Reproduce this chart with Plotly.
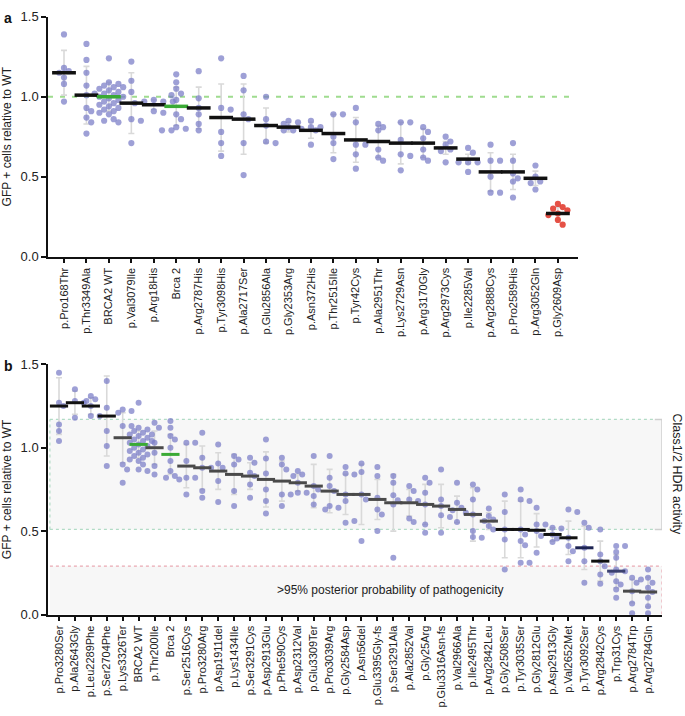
import plotly.graph_objects as go

# ---------------- Panel a data ----------------
cats_a = ["p.Pro168Thr", "p.Thr3349Ala", "BRCA2 WT", "p.Val3079Ile", "p.Arg18His", "Brca 2",
          "p.Arg2787His", "p.Tyr3098His", "p.Ala2717Ser", "p.Glu2856Ala", "p.Gly2353Arg",
          "p.Asn372His", "p.Thr2515Ile", "p.Tyr42Cys", "p.Ala2951Thr", "p.Lys2729Asn",
          "p.Arg3170Gly", "p.Arg2973Cys", "p.Ile2285Val", "p.Arg2888Cys", "p.Pro2589His",
          "p.Arg3052Gln", "p.Gly2609Asp"]
means_a = [1.15, 1.01, 1.00, 0.96, 0.95, 0.94, 0.93, 0.87, 0.86, 0.82, 0.81, 0.79, 0.77,
           0.73, 0.72, 0.71, 0.71, 0.68, 0.61, 0.53, 0.53, 0.49, 0.27]
err_a = [0.14, 0.18, 0.09, 0.19, 0.03, 0.12, 0.13, 0.21, 0.22, 0.11, 0.03, 0.05, 0.12,
         0.14, 0.10, 0.13, 0.09, 0.04, 0.03, 0.12, 0.11, 0.045, 0.04]
points_a = [
    [1.39, 1.18, 1.16, 1.15, 1.12, 1.08, 0.97],
    [1.33, 1.23, 1.15, 1.07, 1.01, 0.93, 0.91, 0.87, 0.84, 0.77],
    [1.24, 1.09, 1.08, 1.07, 1.06, 1.06, 1.05, 1.04, 1.03, 1.02, 1.02, 1.01, 1.00, 1.00,
     0.99, 0.98, 0.97, 0.96, 0.95, 0.94, 0.93, 0.92, 0.91, 0.90, 0.89, 0.86, 0.85, 0.84],
    [1.22, 1.10, 1.03, 0.86, 0.85, 0.71],
    [0.98, 0.97, 0.97, 0.97, 0.96, 0.91, 0.90],
    [1.14, 1.09, 1.05, 1.02, 1.01, 0.98, 0.89, 0.86, 0.81, 0.80, 0.79, 0.79],
    [1.16, 0.99, 0.93, 0.89, 0.83, 0.79],
    [1.24, 0.93, 0.92, 0.78, 0.71, 0.63],
    [1.13, 1.04, 0.89, 0.86, 0.71, 0.51],
    [1.00, 0.86, 0.82, 0.72, 0.71],
    [0.85, 0.84, 0.83, 0.81, 0.79, 0.79],
    [0.85, 0.81, 0.81, 0.80, 0.79, 0.70],
    [0.89, 0.89, 0.75, 0.71, 0.61],
    [0.93, 0.84, 0.70, 0.70, 0.64, 0.55],
    [0.83, 0.81, 0.79, 0.67, 0.62, 0.60],
    [0.84, 0.84, 0.73, 0.64, 0.63, 0.54],
    [0.81, 0.78, 0.74, 0.67, 0.62, 0.60],
    [0.75, 0.72, 0.70, 0.67, 0.66, 0.59],
    [0.68, 0.65, 0.59, 0.59, 0.59, 0.53],
    [0.70, 0.60, 0.60, 0.50, 0.40, 0.40],
    [0.71, 0.60, 0.52, 0.49, 0.47, 0.37],
    [0.57, 0.50, 0.47, 0.46, 0.42],
    [0.33, 0.31, 0.30, 0.29, 0.27, 0.26, 0.23, 0.20],
]
wt_level_a = 1.0

# ---------------- Panel b data ----------------
cats_b = ["p.Pro3280Ser", "p.Ala2643Gly", "p.Leu2289Phe", "p.Ser2704Phe", "p.Lys3326Ter",
          "BRCA2 WT", "p.Thr200Ile", "Brca 2", "p.Ser2516Cys", "p.Pro3280Arg", "p.Asp1911del",
          "p.Lys1434Ile", "p.Ser3291Cys", "p.Asp2913Glu", "p.Phe590Cys", "p.Asp2312Val",
          "p.Glu3309Ter", "p.Pro3039Arg", "p.Gly2584Asp", "p.Asn56del", "p.Glu3395Gly-fs",
          "p.Ser3291Ala", "p.Ala2852Val", "p.Gly25Arg", "p.Glu3316Asn-fs", "p.Val2966Ala",
          "p.Ile2495Thr", "p.Arg2842Leu", "p.Gly2508Ser", "p.Tyr3035Ser", "p.Gly2812Glu",
          "p.Asp2913Gly", "p.Val2652Met", "p.Tyr3092Ser", "p.Arg2842Cys", "p.Trp31Cys",
          "p.Arg2784Trp", "p.Arg2784Gln"]
means_b = [1.25, 1.27, 1.25, 1.19, 1.06, 1.02, 1.00, 0.96, 0.89, 0.88, 0.86, 0.84, 0.83,
           0.81, 0.80, 0.79, 0.77, 0.74, 0.72, 0.72, 0.69, 0.67, 0.67, 0.66, 0.65, 0.63,
           0.60, 0.56, 0.51, 0.51, 0.505, 0.48, 0.46, 0.40, 0.32, 0.26, 0.14, 0.135]
err_b = [0.17, 0.07, 0.05, 0.24, 0.15, 0.08, 0.10, 0.12, 0.13, 0.13, 0.11, 0.12, 0.08,
         0.165, 0.12, 0.05, 0.13, 0.13, 0.12, 0.18, 0.12, 0.17, 0.08, 0.12, 0.13, 0.08,
         0.16, 0.05, 0.17, 0.17, 0.10, 0.04, 0.10, 0.13, 0.12, 0.10, 0.07, 0.09]
points_b = [
    [1.45, 1.27, 1.25, 1.14, 1.10, 1.04],
    [1.35, 1.28, 1.27, 1.18],
    [1.31, 1.29, 1.28, 1.25, 1.19, 1.19],
    [1.52, 1.40, 1.24, 1.10, 1.01, 0.89],
    [1.23, 1.22, 1.21, 1.13, 1.13, 0.90, 0.87, 0.79],
    [1.27, 1.12, 1.11, 1.10, 1.09, 1.08, 1.08, 1.07, 1.06, 1.05, 1.04, 1.04, 1.03, 1.02,
     1.01, 1.00, 0.99, 0.98, 0.97, 0.96, 0.95, 0.94, 0.93, 0.92, 0.90, 0.87, 0.86],
    [1.15, 1.12, 1.03, 0.97, 0.89, 0.84],
    [1.16, 1.12, 1.07, 1.05, 1.00, 0.92, 0.86, 0.83, 0.82, 0.81],
    [1.03, 1.03, 0.92, 0.82, 0.82, 0.72],
    [1.09, 0.94, 0.88, 0.88, 0.74, 0.70],
    [1.02, 0.905, 0.88, 0.80, 0.675],
    [0.95, 0.93, 0.90, 0.74, 0.65],
    [0.94, 0.91, 0.85, 0.83, 0.78, 0.70],
    [1.05, 0.935, 0.845, 0.75, 0.68, 0.605],
    [0.94, 0.90, 0.87, 0.72, 0.72, 0.65],
    [0.86, 0.84, 0.83, 0.79, 0.73, 0.73],
    [0.95, 0.77, 0.75, 0.71, 0.66],
    [0.95, 0.82, 0.77, 0.74, 0.65, 0.64, 0.63],
    [0.885, 0.845, 0.84, 0.72, 0.68, 0.55, 0.56],
    [0.905, 0.855, 0.72, 0.69, 0.44],
    [0.885, 0.83, 0.70, 0.63, 0.60, 0.50],
    [0.83, 0.79, 0.715, 0.685, 0.66, 0.34],
    [0.77, 0.74, 0.69, 0.68, 0.575, 0.555],
    [0.82, 0.79, 0.73, 0.66, 0.54, 0.49],
    [0.87, 0.69, 0.65, 0.595, 0.585, 0.49],
    [0.79, 0.67, 0.64, 0.625, 0.61, 0.555],
    [0.78, 0.75, 0.69, 0.60, 0.50, 0.465, 0.46],
    [0.635, 0.59, 0.57, 0.56, 0.53, 0.51],
    [0.72, 0.615, 0.51, 0.45, 0.27],
    [0.75, 0.69, 0.68, 0.51, 0.48, 0.44, 0.415, 0.31, 0.31],
    [0.64, 0.54, 0.54, 0.50, 0.47, 0.37],
    [0.52, 0.515, 0.48, 0.455, 0.435],
    [0.63, 0.615, 0.46, 0.41, 0.38, 0.32],
    [0.55, 0.52, 0.40, 0.32, 0.19],
    [0.51, 0.36, 0.32, 0.29, 0.24, 0.185],
    [0.41, 0.41, 0.375, 0.34, 0.27, 0.26, 0.25, 0.20, 0.18, 0.15, 0.10],
    [0.22, 0.21, 0.19, 0.14, 0.066, 0.007],
    [0.27, 0.22, 0.19, 0.16, 0.135, 0.10, 0.05, 0.007],
]
hdr_band_b = (0.51, 1.17)
patho_limit_b = 0.29
y_ticks = [0.0, 0.5, 1.0, 1.5]

# ---------------- styles ----------------
W, H = 685, 716
FONT = "Liberation Sans, Arial, sans-serif"
PT = "rgba(120,124,198,0.72)"
RED = "rgba(226,62,50,0.9)"
ERR = "#d9d9d9"
GREEN_MEAN = "#3aaa35"
mean_col_a = ["#111111"] * len(cats_a)
for nm in ("BRCA2 WT", "Brca 2"):
    mean_col_a[cats_a.index(nm)] = GREEN_MEAN
mean_col_b = []
for i, nm in enumerate(cats_b):
    if nm in ("BRCA2 WT", "Brca 2"):
        mean_col_b.append(GREEN_MEAN)
    elif i < 4 or 28 <= i <= 32 or i == 34:
        mean_col_b.append("#111111")
    elif i == 33:
        mean_col_b.append("#1d2352")
    elif i == 35:
        mean_col_b.append("#3b4170")
    else:
        mean_col_b.append("#4a4a4a")

# pixel geometry of both panels
A_X0, A_X1, A_TICK0, A_STEP = 48, 578, 64, 22.45
A_YTOP, A_YBOT = 10, 255
B_X0, B_X1, B_TICK0, B_STEP = 48, 662, 59, 15.92
B_YTOP, B_YBOT = 365, 620.5


def swarm(vals, center, xpx, ypx, diam, step):
    placed, out = [], []
    for v in vals:
        y = v * ypx
        k_order = [0]
        for k in range(1, 20):
            k_order += [k, -k]
        for k in k_order:
            x = k * step
            if all((x - px) ** 2 + (y - py) ** 2 >= diam ** 2 for px, py in placed):
                break
        placed.append((x, y))
        out.append(center + x / xpx)
    return out


fig = go.Figure()

def add_panel(cats, means, errs, points, xa, ya, xpx, ypx, diam, msize, barlen, barw, mcols, special_red=None):
    xs_idx = list(range(len(cats)))
    fig.add_trace(go.Scatter(x=xs_idx, y=means, mode="markers",
                             marker=dict(size=1, color="rgba(0,0,0,0)"),
                             error_y=dict(type="data", array=errs, visible=True, color=ERR,
                                          thickness=1.6, width=3),
                             xaxis=xa, yaxis=ya, showlegend=False, hoverinfo="skip"))
    px_x, px_y, px_c = [], [], []
    for i, pts in enumerate(points):
        xs = swarm(pts, i, xpx, ypx, diam, diam * 0.85)
        px_x += xs
        px_y += pts
        px_c += [RED if (special_red is not None and cats[i] == special_red) else PT] * len(pts)
    fig.add_trace(go.Scatter(x=px_x, y=px_y, mode="markers",
                             marker=dict(size=msize, color=px_c, line=dict(width=0)),
                             xaxis=xa, yaxis=ya, showlegend=False, cliponaxis=False))
    fig.add_trace(go.Scatter(x=xs_idx, y=means, mode="markers",
                             marker=dict(symbol="line-ew", size=barlen,
                                         line=dict(width=barw, color=mcols)),
                             xaxis=xa, yaxis=ya, showlegend=False, cliponaxis=False))


add_panel(cats_a, means_a, err_a, points_a, "x", "y", A_STEP, (A_YBOT - A_YTOP) / 1.5,
          5.6, 6.2, 17, 3.5, mean_col_a, special_red="p.Gly2609Asp")
add_panel(cats_b, means_b, err_b, points_b, "x2", "y2", B_STEP, (B_YBOT - B_YTOP) / 1.5,
          5.2, 6, 13, 3, mean_col_b)

a_rng = [(A_X0 - A_TICK0) / A_STEP, (A_X1 - A_TICK0) / A_STEP]
b_rng = [(B_X0 - B_TICK0) / B_STEP, (B_X1 - B_TICK0) / B_STEP]

axis_common = dict(showline=True, linecolor="#111111", linewidth=1.5, ticks="outside",
                   ticklen=5, tickwidth=1.5, tickcolor="#111111", showgrid=False,
                   zeroline=False)
xfont = dict(family=FONT, size=11, color="#222222")
yfont = dict(family=FONT, size=13, color="#222222")
ytitle = dict(text="GFP + cells relative to WT", font=dict(family=FONT, size=12, color="#222222"), standoff=6)

fig.update_layout(
    width=W, height=H, margin=dict(l=0, r=0, t=0, b=0),
    paper_bgcolor="white", plot_bgcolor="rgba(0,0,0,0)",
    xaxis=dict(domain=[A_X0 / W, A_X1 / W], range=a_rng, tickmode="array",
               tickvals=list(range(len(cats_a))), ticktext=cats_a, tickangle=-90,
               anchor="y", tickfont=xfont, **axis_common),
    yaxis=dict(domain=[1 - A_YBOT / H, 1 - A_YTOP / H], range=[0, 1.5], tickmode="array",
               tickvals=y_ticks, ticktext=[f"{v:.1f}" for v in y_ticks], anchor="x",
               title=ytitle, tickfont=yfont, **axis_common),
    xaxis2=dict(domain=[B_X0 / W, B_X1 / W], range=b_rng, tickmode="array",
                tickvals=list(range(len(cats_b))), ticktext=cats_b, tickangle=-90,
                anchor="y2", tickfont=xfont, **axis_common),
    yaxis2=dict(domain=[1 - B_YBOT / H, 1 - B_YTOP / H], range=[0, 1.5], tickmode="array",
                tickvals=y_ticks, ticktext=[f"{v:.1f}" for v in y_ticks], anchor="x2",
                title=ytitle, tickfont=yfont, **axis_common),
)

shapes = []
shapes.append(dict(type="line", xref="x", yref="y", x0=a_rng[0], x1=(573 - A_TICK0) / A_STEP,
                   y0=wt_level_a, y1=wt_level_a, layer="below",
                   line=dict(color="#9fdc8f", width=2.2, dash="5px,7px")))
bx0 = b_rng[0] + 0.12
bx1 = b_rng[1]
lo, hi = hdr_band_b
shapes.append(dict(type="rect", xref="x2", yref="y2", x0=bx0, x1=bx1, y0=lo, y1=hi,
                   fillcolor="#f7f7f7", line=dict(width=0), layer="below"))
shapes.append(dict(type="rect", xref="x2", yref="y2", x0=bx0, x1=bx1, y0=0, y1=patho_limit_b,
                   fillcolor="#f7f7f7", line=dict(width=0), layer="below"))
gdot = dict(color="#b2dcc6", width=1.2, dash="dot")
pdot = dict(color="#eaa9b3", width=1.2, dash="dot")
shapes.append(dict(type="line", xref="x2", yref="y2", x0=bx0, x1=bx1 - 0.4, y0=hi, y1=hi, line=gdot, layer="below"))
shapes.append(dict(type="line", xref="x2", yref="y2", x0=bx0, x1=bx1 - 0.4, y0=lo, y1=lo, line=gdot, layer="below"))
shapes.append(dict(type="line", xref="x2", yref="y2", x0=bx0, x1=bx0, y0=lo, y1=hi, line=gdot, layer="below"))
shapes.append(dict(type="line", xref="x2", yref="y2", x0=bx0, x1=bx1, y0=patho_limit_b, y1=patho_limit_b, line=pdot, layer="below"))
shapes.append(dict(type="line", xref="x2", yref="y2", x0=bx1, x1=bx1, y0=0, y1=patho_limit_b, line=pdot, layer="below"))
gsolid = dict(color="#cfcfcf", width=1.5)
shapes.append(dict(type="line", xref="x2", yref="y2", x0=bx1, x1=bx1, y0=lo, y1=hi, line=gsolid))
shapes.append(dict(type="line", xref="x2", yref="y2", x0=bx1 - 0.45, x1=bx1, y0=hi, y1=hi, line=gsolid))
shapes.append(dict(type="line", xref="x2", yref="y2", x0=bx1 - 0.45, x1=bx1, y0=lo, y1=lo, line=gsolid))
shapes.append(dict(type="line", xref="x2", yref="y2", x0=bx1, x1=bx1 + 0.5, y0=(lo + hi) / 2, y1=(lo + hi) / 2, line=gsolid))
fig.update_layout(shapes=shapes)

fig.add_annotation(x=669 / W, y=(lo + hi) / 2, xref="paper", yref="y2", text="Class1/2 HDR activity",
                   textangle=90, showarrow=False, xanchor="left", yanchor="middle", borderpad=0,
                   font=dict(family=FONT, size=12.5, color="#222222"))
fig.add_annotation(x=(390 - B_TICK0) / B_STEP, y=patho_limit_b / 2, xref="x2", yref="y2",
                   text=">95% posterior probability of pathogenicity", showarrow=False,
                   font=dict(family=FONT, size=12, color="#222222"))
fig.add_annotation(x=2 / W, y=1 - 1 / H, xref="paper", yref="paper", text="<b>a</b>", showarrow=False,
                   xanchor="left", yanchor="top", font=dict(family=FONT, size=14, color="#111111"))
fig.add_annotation(x=2 / W, y=1 - 356 / H, xref="paper", yref="paper", text="<b>b</b>", showarrow=False,
                   xanchor="left", yanchor="top", font=dict(family=FONT, size=14, color="#111111"))

fig.write_html("out.html", config={"displayModeBar": False},
               post_script="document.body.style.margin='0';document.body.style.overflow='hidden';")
